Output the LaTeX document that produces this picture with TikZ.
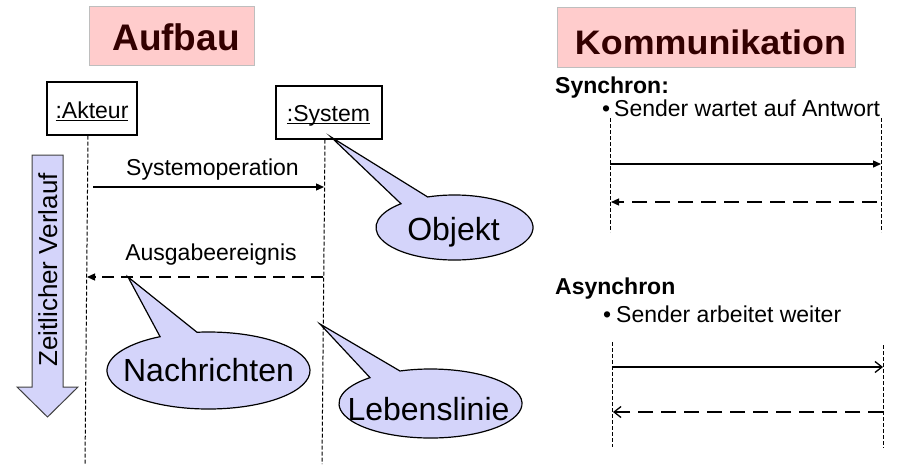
\documentclass[tikz,border=0pt]{standalone}
\usepackage{fontspec}
\setmainfont{Liberation Sans}
\usetikzlibrary{arrows.meta,calc}
\definecolor{titlefill}{RGB}{255,204,204}
\definecolor{titleborder}{RGB}{190,190,190}
\definecolor{titletext}{RGB}{51,0,0}
\definecolor{lav}{RGB}{212,212,250}
\newcommand{\ulx}[1]{\leavevmode\setbox0=\hbox{#1}\rlap{\rule[-2.4pt]{\wd0}{1.2pt}}\box0}
\begin{document}
\begin{tikzpicture}[x=1pt,y=1pt,
  titlebox/.style={draw=titleborder, fill=titlefill, line width=0.8pt, inner sep=0pt},
  titletxt/.style={font=\fontsize{37}{40}\selectfont\bfseries, text=titletext, inner sep=0pt, anchor=base},
  objbox/.style={draw=black, fill=white, line width=1.2pt, inner sep=0pt},
  smalltxt/.style={font=\fontsize{23}{26}\selectfont, inner sep=0pt},
  smallbold/.style={font=\fontsize{23}{26}\selectfont\bfseries, inner sep=0pt},
  calltxt/.style={font=\fontsize{32}{36}\selectfont, inner sep=0pt, anchor=base},
  lifeline/.style={line width=1pt, dash pattern=on 4pt off 2pt},
  solidmsg/.style={line width=1.3pt, -{Triangle[length=8pt,width=7pt]}},
  dashmsg/.style={line width=1.3pt, dash pattern=on 12pt off 7pt, -{Triangle[length=8pt,width=7pt]}},
  dashmsgr/.style={line width=1.3pt, dash pattern=on 15pt off 8pt, -{Triangle[length=8pt,width=7pt]}},
  asyncmsg/.style={line width=1.3pt, -{Straight Barb[length=7pt,width=11pt]}},
  asyncdash/.style={line width=1.3pt, dash pattern=on 15pt off 8pt, -{Straight Barb[length=7pt,width=11pt]}},
  callout/.style={fill=lav, draw=black, line width=1.2pt},
  timearrow/.style={fill=lav, draw=black!75, line width=1pt}
]
\useasboundingbox (0,0) rectangle (909,-464);

% Titles
\node[titlebox, minimum width=165pt, minimum height=59pt] (tb1) at (171.5,-35.5) {};
\node[titletxt] (t1) at (176,-50) {Aufbau};
\node[titlebox, minimum width=298pt, minimum height=60pt] (tb2) at (706,-37) {};
\node[titletxt, font=\fontsize{34}{37}\selectfont\bfseries] (t2) at (710.5,-54) {\scalebox{1.055}[1]{Kommunikation}};

% Time arrow
\draw[timearrow] (32,-155) -- (63,-155) -- (63,-387) -- (78,-387) -- (47.5,-417) -- (17,-387) -- (32,-387) -- cycle;
\node[font=\fontsize{26}{28}\selectfont, inner sep=0pt, rotate=90, anchor=base] (zv) at (57,-270) {Zeitlicher Verlauf};

% Objects
\node[objbox, minimum width=90pt, minimum height=53pt] (akt) at (92,-108.5) {};
\node[smalltxt, anchor=base] (aktt) at (92,-118.3) {\ulx{:Akteur}};
\node[objbox, minimum width=106pt, minimum height=53pt] (sys) at (329,-112.5) {};
\node[smalltxt, anchor=base] (syst) at (328.5,-121.7) {\ulx{:System}};

\coordinate (aktend) at (85,-464);
\coordinate (sysend) at (322,-464);
\draw[lifeline] ([xshift=-4pt]akt.south) -- (aktend);
\draw[lifeline] ([xshift=-4pt]sys.south) -- (sysend);

% Messages
\coordinate (m1s) at (93,-187);
\coordinate (m1e) at (324,-187);
\draw[solidmsg] (m1s) -- (m1e);
\node[smalltxt, anchor=base] (l1) at (212.5,-175) {Systemoperation};
\coordinate (m2s) at (323,-277);
\coordinate (m2e) at (87,-277);
\draw[dashmsg] (m2s) -- (m2e);
\node[smalltxt, anchor=base] (l2) at (211,-260) {Ausgabeereignis};

% Callouts
\coordinate (objc) at (454.5,-227.5);
\draw[callout] (331,-137) -- ($(objc)+(110:78.5pt and 32.5pt)$) arc[start angle=110, end angle=-227, x radius=78.5pt, y radius=32.5pt] -- cycle;
\node[calltxt] (objt) at (453.5,-240) {Objekt};

\coordinate (nachc) at (208.5,-370.5);
\draw[callout] (128,-277) -- ($(nachc)+(96.5:101.5pt and 38.5pt)$) arc[start angle=96.5, end angle=-241.5, x radius=101.5pt, y radius=38.5pt] -- cycle;
\node[calltxt] (nacht) at (208.5,-381.7) {Nachrichten};

\coordinate (lebc) at (430.5,-403.5);
\draw[callout] (320,-324) -- ($(lebc)+(109.5:91.5pt and 34.5pt)$) arc[start angle=109.5, end angle=-228.6, x radius=91.5pt, y radius=34.5pt] -- cycle;
\node[calltxt] (lebt) at (428.5,-420) {Lebenslinie};

% Right side: Synchron
\node[smallbold, anchor=base west] (syn) at (555,-93) {Synchron:};
\node[smalltxt, anchor=base west] (b1) at (602,-116) {•};
\node[smalltxt, anchor=base west] (s1) at (614,-116) {Sender wartet auf Antwort};
\coordinate (sl1) at (610,-118); \coordinate (sl1e) at (610,-232);
\coordinate (sr1) at (881,-118); \coordinate (sr1e) at (881,-232);
\draw[lifeline] (sl1) -- (sl1e);
\draw[lifeline] (sr1) -- (sr1e);
\coordinate (sa) at (610,-164); \coordinate (sb) at (881,-164);
\draw[solidmsg] (sa) -- (sb);
\coordinate (sc) at (877,-202); \coordinate (sd) at (611,-202);
\draw[dashmsgr] (sc) -- (sd);

% Right side: Asynchron
\node[smallbold, anchor=base west] (asyn) at (555,-294) {Asynchron};
\node[smalltxt, anchor=base west] (b2) at (603,-322) {•};
\node[smalltxt, anchor=base west] (s2) at (616,-322) {Sender arbeitet weiter};
\coordinate (al1) at (612,-342); \coordinate (al1e) at (612,-447);
\coordinate (ar1) at (883,-345); \coordinate (ar1e) at (883,-448);
\draw[lifeline] (al1) -- (al1e);
\draw[lifeline] (ar1) -- (ar1e);
\coordinate (aa) at (612,-367); \coordinate (ab) at (883,-367);
\draw[asyncmsg] (aa) -- (ab);
\coordinate (ac) at (883,-412); \coordinate (ad) at (613,-412);
\draw[asyncdash] (ac) -- (ad);
\end{tikzpicture}
\end{document}
